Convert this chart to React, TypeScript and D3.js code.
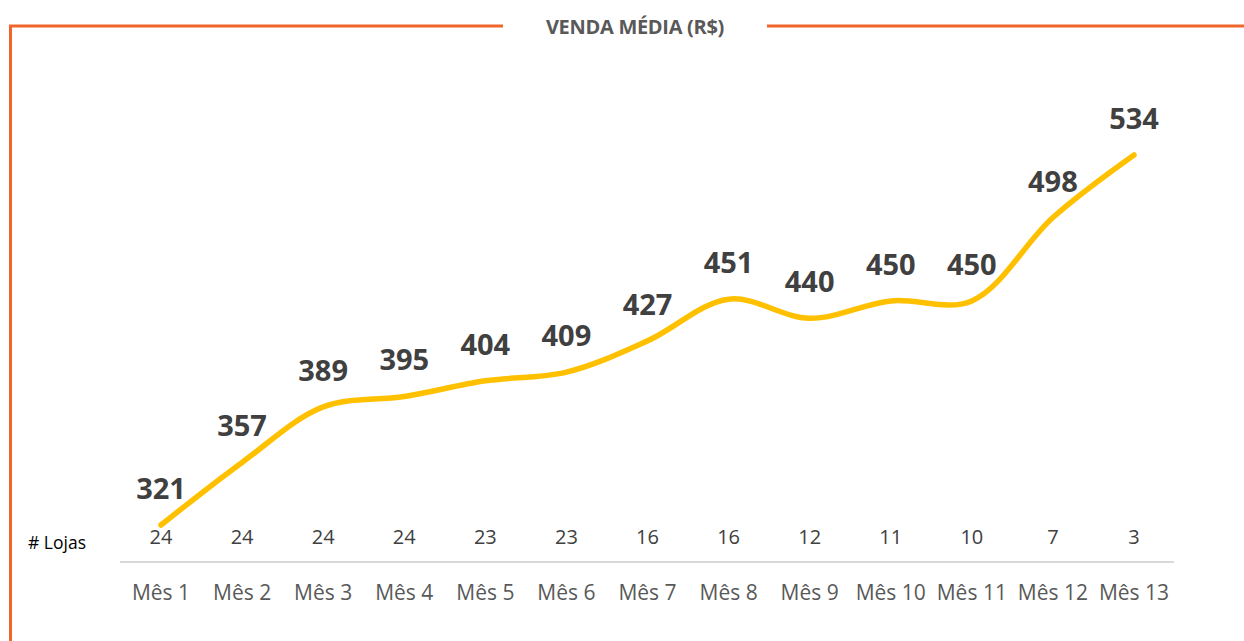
import React, { useEffect, useRef } from "react";
import * as d3 from "d3";

const months = ["Mês 1", "Mês 2", "Mês 3", "Mês 4", "Mês 5", "Mês 6", "Mês 7", "Mês 8", "Mês 9", "Mês 10", "Mês 11", "Mês 12", "Mês 13"];
const avgSales = [321, 357, 389, 395, 404, 409, 427, 451, 440, 450, 450, 498, 534];
const stores = [24, 24, 24, 24, 23, 23, 16, 16, 12, 11, 10, 7, 3];
const title = "VENDA MÉDIA (R$)";

const W = 1244;
const H = 641;
const FONT = "'Open Sans', 'DejaVu Sans', sans-serif";

function App() {
  const ref = useRef<SVGSVGElement>(null);

  useEffect(() => {
    const svg = d3.select(ref.current);
    svg.selectAll("*").remove();

    const x = d3.scalePoint<string>().domain(months).range([161, 1134]);
    const y = d3.scaleLinear().domain([321, 534]).range([525, 155]);

    // frame
    const orange = "#F0652A";
    svg.append("path")
      .attr("d", "M10.5,641 L10.5,26 L503,26")
      .attr("fill", "none")
      .attr("stroke", orange)
      .attr("stroke-width", 3);
    svg.append("line")
      .attr("x1", 767).attr("x2", W)
      .attr("y1", 26).attr("y2", 26)
      .attr("stroke", orange)
      .attr("stroke-width", 3);

    svg.append("text")
      .attr("x", 635)
      .attr("y", 34)
      .attr("text-anchor", "middle")
      .attr("font-family", FONT)
      .attr("font-weight", 700)
      .attr("font-size", 20)
      .attr("letter-spacing", -0.3)
      .attr("fill", "#595959")
      .text(title);

    // axis line
    svg.append("line")
      .attr("x1", 120).attr("x2", 1174)
      .attr("y1", 562).attr("y2", 562)
      .attr("stroke", "#d9d9d9")
      .attr("stroke-width", 2);

    // line
    const line = d3.line<number>()
      .x((_, i) => x(months[i])!)
      .y((d) => y(d))
      .curve(d3.curveCatmullRom.alpha(0.5));

    svg.append("path")
      .datum(avgSales)
      .attr("d", line)
      .attr("fill", "none")
      .attr("stroke", "#FFC000")
      .attr("stroke-width", 5.5)
      .attr("stroke-linecap", "round");

    // value labels
    svg.append("g")
      .selectAll("text")
      .data(avgSales)
      .join("text")
      .attr("x", (_, i) => x(months[i])!)
      .attr("y", (d) => y(d) - 26)
      .attr("text-anchor", "middle")
      .attr("font-family", FONT)
      .attr("font-weight", 700)
      .attr("font-size", 29)
      .attr("fill", "#404040")
      .text((d) => d);

    // store counts
    svg.append("g")
      .selectAll("text")
      .data(stores)
      .join("text")
      .attr("x", (_, i) => x(months[i])!)
      .attr("y", 544)
      .attr("text-anchor", "middle")
      .attr("font-family", FONT)
      .attr("font-size", 20)
      .attr("fill", "#404040")
      .text((d) => d);

    svg.append("text")
      .attr("x", 28)
      .attr("y", 549)
      .attr("font-family", FONT)
      .attr("font-size", 17.5)
      .attr("fill", "#000")
      .text("# Lojas");

    // month labels
    svg.append("g")
      .selectAll("text")
      .data(months)
      .join("text")
      .attr("x", (d) => x(d)!)
      .attr("y", 600)
      .attr("text-anchor", "middle")
      .attr("font-family", FONT)
      .attr("font-size", 21)
      .attr("fill", "#595959")
      .text((d) => d);
  }, []);

  return (
    <div style={{ position: "fixed", left: 0, top: 0, background: "#fff" }}>
      <svg ref={ref} width={W} height={H} style={{ display: "block" }} />
    </div>
  );
}

export default App;
